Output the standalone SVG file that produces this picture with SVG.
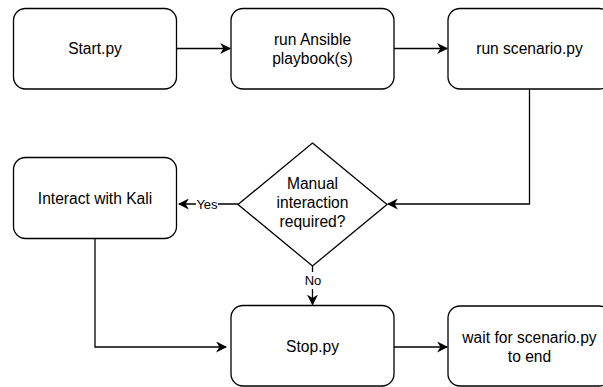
<svg xmlns="http://www.w3.org/2000/svg" width="603" height="387" viewBox="0 0 603 387">
<defs>
<style>
.box{fill:#fff;stroke:#000;stroke-width:1.3}
.ln{fill:none;stroke:#000;stroke-width:1.3}
text{font-family:"Liberation Sans",Arial,sans-serif;font-size:15.6px;fill:#000;text-anchor:middle;dominant-baseline:central}
</style>
<marker id="arr" viewBox="0 0 10 10" refX="9" refY="5" markerWidth="11" markerHeight="11" markerUnits="userSpaceOnUse" orient="auto">
<path d="M0,0 L10,5 L0,10 L3,5 Z" fill="#000"/>
</marker>
</defs>
<rect width="603" height="387" fill="#fff"/>
<g id="connectors">
<path class="ln" d="M177,48.5 H230" marker-end="url(#arr)"/>
<path class="ln" d="M394,48.5 H447" marker-end="url(#arr)"/>
<path class="ln" d="M529.5,89 V204 H388" marker-end="url(#arr)"/>
<path class="ln" d="M238,204 H218 M196,204 H179" marker-end="url(#arr)"/>
<text x="207" y="204" style="font-size:13px">Yes</text>
<path class="ln" d="M312.5,266 V272 M312.5,289 V304.5" marker-end="url(#arr)"/>
<text x="313" y="280" style="font-size:13px">No</text>
<path class="ln" d="M95,239 V347 H226" marker-end="url(#arr)"/>
<path class="ln" d="M394,347 H447" marker-end="url(#arr)"/>
</g>
<g id="start">
<rect class="box" x="13.5" y="8.5" width="163" height="80.5" rx="12"/>
<text x="95" y="48.5">Start.py</text>
</g>
<g id="ansible">
<rect class="box" x="231" y="8.5" width="163" height="80.5" rx="12"/>
<text x="312.5" y="39">run Ansible</text>
<text x="312.5" y="58">playbook(s)</text>
</g>
<g id="scenario">
<rect class="box" x="448" y="8.5" width="163" height="80.5" rx="12"/>
<text x="529.5" y="48.5">run scenario.py</text>
</g>
<g id="decision">
<path class="box" d="M312.5,143 L387,204.5 L312.5,266 L238,204.5 Z"/>
<text x="312.5" y="183">Manual</text>
<text x="312.5" y="202">interaction</text>
<text x="312.5" y="221">required?</text>
</g>
<g id="kali">
<rect class="box" x="13.5" y="157.5" width="163" height="81" rx="12"/>
<text x="95" y="198">Interact with Kali</text>
</g>
<g id="stop">
<rect class="box" x="231" y="305.5" width="163" height="80.5" rx="12"/>
<text x="312.5" y="346">Stop.py</text>
</g>
<g id="wait">
<rect class="box" x="448" y="306" width="163" height="80" rx="12"/>
<text x="529.5" y="337">wait for scenario.py</text>
<text x="529.5" y="356">to end</text>
</g>
</svg>
